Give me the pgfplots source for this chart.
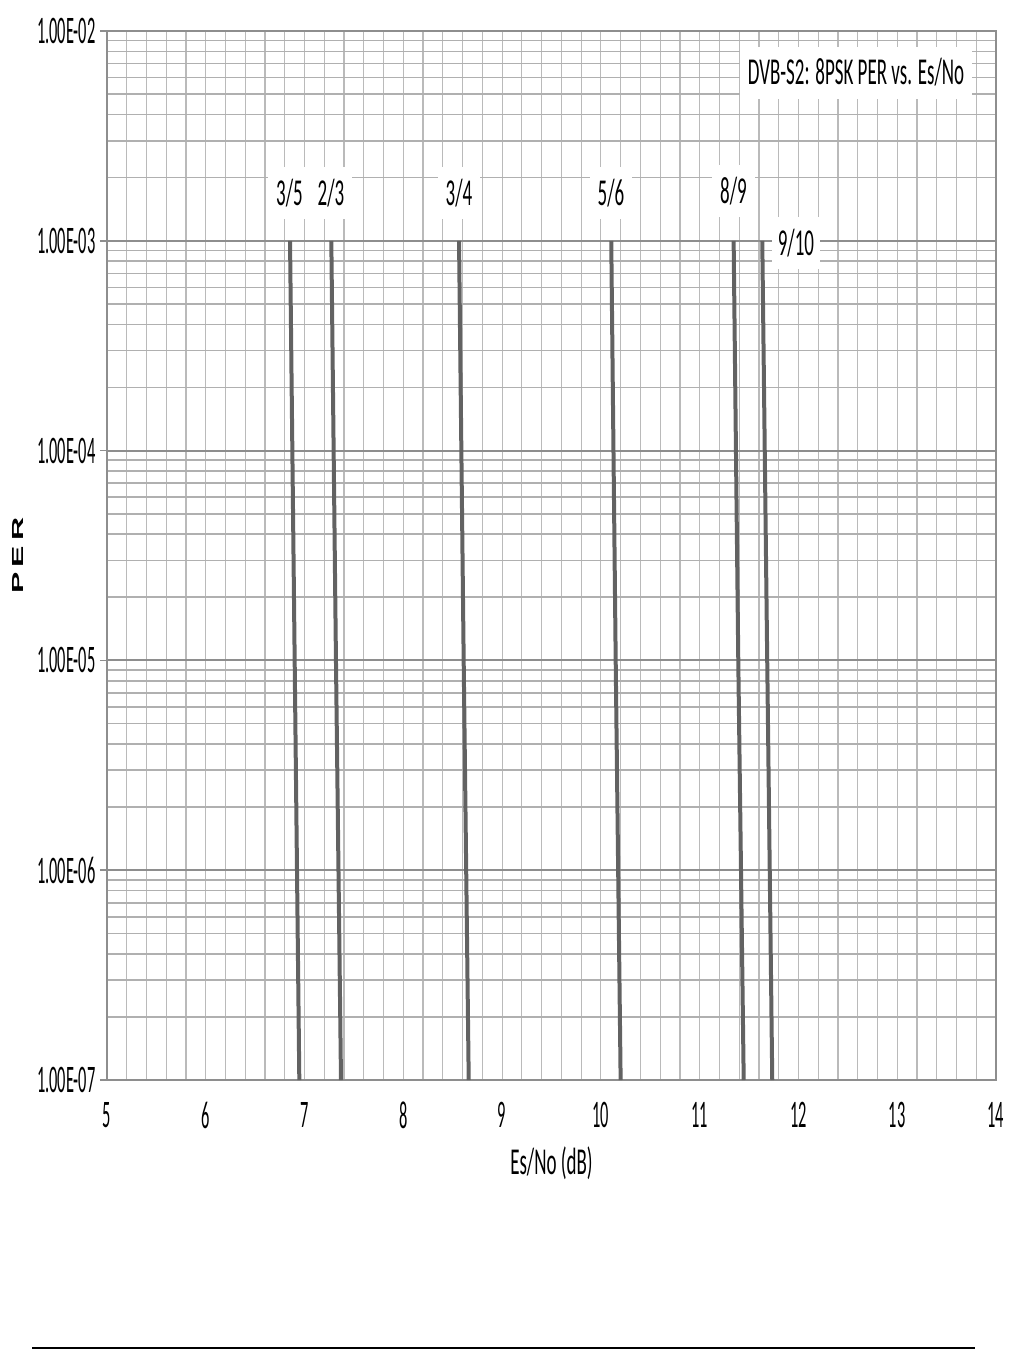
\documentclass[border=0pt]{standalone}
\usepackage{fontspec}
\setmainfont{Carlito}[FakeStretch=0.5]
\newfontfamily\tickfont{Carlito}[FakeStretch=0.42]
\newfontfamily\perfont{Liberation Sans}
\usepackage{pgfplots}
\pgfplotsset{compat=1.18}
\definecolor{curve}{HTML}{626262}
\definecolor{majgrid}{HTML}{8E8E8E}
\definecolor{mingrid}{HTML}{B0B0B0}
\definecolor{vgrid}{HTML}{BABABA}

% PER vs Es/No for each code rate: (Es/No, PER)
\pgfplotstableread{
x y
6.853 1e-3
6.900 1e-5
6.947 1e-7
}\rateA
\pgfplotstableread{
x y
7.271 1e-3
7.318 1e-5
7.369 1e-7
}\rateB
\pgfplotstableread{
x y
8.564 1e-3
8.611 1e-5
8.662 1e-7
}\rateC
\pgfplotstableread{
x y
10.105 1e-3
10.150 1e-5
10.200 1e-7
}\rateD
\pgfplotstableread{
x y
11.344 1e-3
11.391 1e-5
11.446 1e-7
}\rateE
\pgfplotstableread{
x y
11.634 1e-3
11.684 1e-5
11.735 1e-7
}\rateF

\begin{document}
\begin{tikzpicture}[x=1pt,y=1pt]
\useasboundingbox (0,0) rectangle (504.5,675.5);
\begin{axis}[
  at={(53.5pt,135.5pt)}, anchor=south west,
  scale only axis, width=444.5pt, height=524.5pt,
  xmin=5, xmax=14, ymode=log, ymin=1e-7, ymax=1e-2,
  xtick={5,6,7,8,9,10,11,12,13,14},
  xticklabels={5,6,7,8,9,10,11,12,13,14},
  minor x tick num=4,
  ytick={1e-7,1e-6,1e-5,1e-4,1e-3,1e-2},
  yticklabels={1.00E-07,1.00E-06,1.00E-05,1.00E-04,1.00E-03,1.00E-02},
  ytick pos=left,
  grid=both,
  major x grid style={vgrid, line width=0.6pt},
  minor x grid style={vgrid, line width=0.6pt},
  major y grid style={majgrid, line width=1pt},
  minor y grid style={mingrid, line width=0.8pt},
  axis line style={majgrid, line width=0.8pt},
  tick align=outside,
  xtick style={draw=none},
  ytick style={majgrid, line width=0.8pt},
  major tick length=3.5pt, minor tick length=0pt,
  yticklabel style={font=\tickfont\fontsize{19.5}{21}\selectfont, inner sep=2pt},
  xticklabel style={font=\tickfont\fontsize{19.5}{21}\selectfont, yshift=-4pt},
  xlabel={Es/No (dB)},
  xlabel style={font=\fontsize{19}{21}\selectfont, at={(axis description cs:0.5,0)}, anchor=center, yshift=-41.5pt},
  ylabel={\scalebox{1}[0.5]{\perfont\bfseries\fontsize{16}{18}\selectfont P\,E\,R}},
  ylabel style={at={(axis description cs:0,0.5)}, anchor=center, yshift=44.5pt},
]
\addplot[curve, line width=2pt] table {\rateA};
\addplot[curve, line width=2pt] table {\rateB};
\addplot[curve, line width=2pt] table {\rateC};
\addplot[curve, line width=2pt] table {\rateD};
\addplot[curve, line width=2pt] table {\rateE};
\addplot[curve, line width=2pt] table {\rateF};

\begin{scope}[every node/.style={fill=white, inner xsep=4pt, inner ysep=6pt, anchor=base, font=\fontsize{19}{21}\selectfont}]
\node at (axis cs:6.848,1.48e-3) {3/5};
\node at (axis cs:7.268,1.48e-3) {2/3};
\node at (axis cs:8.563,1.48e-3) {3/4};
\node at (axis cs:10.102,1.48e-3) {5/6};
\node at (axis cs:11.342,1.50e-3) {8/9};
\node[inner xsep=3pt] at (axis cs:11.975,8.55e-4) {9/10};
\node at (axis cs:12.583,5.53e-3) {DVB-S2: 8PSK PER vs. Es/No};
\end{scope}
\end{axis}
\draw[black, line width=0.8pt] (16,1.5) -- (487.5,1.5);
\end{tikzpicture}
\end{document}
